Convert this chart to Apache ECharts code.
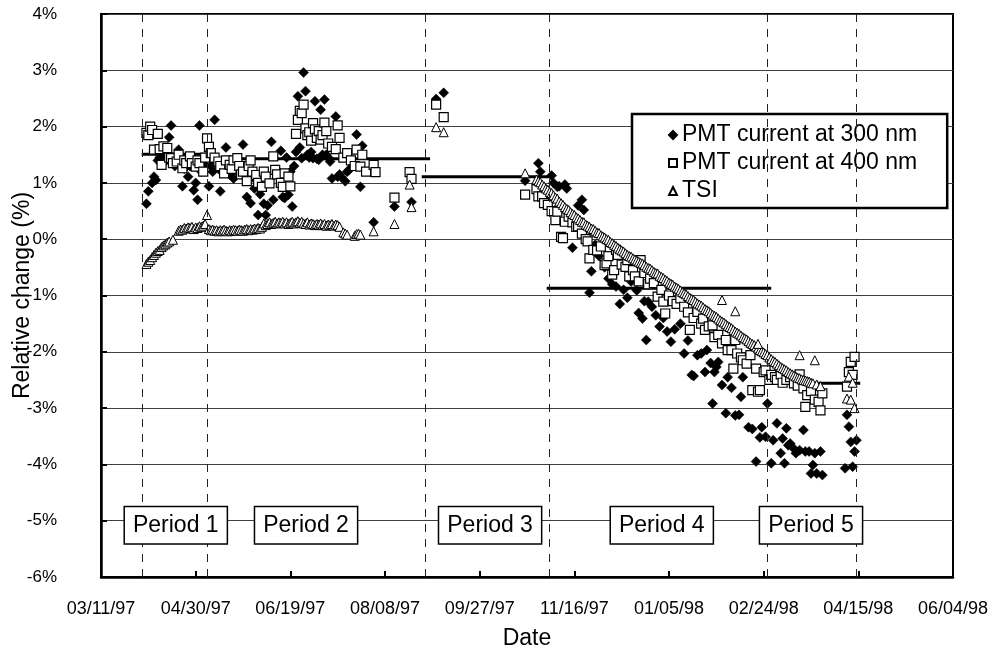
<!DOCTYPE html>
<html><head><meta charset="utf-8">
<script src="https://cdn.jsdelivr.net/npm/echarts@6/dist/echarts.min.js"></script>
<style>html,body{margin:0;padding:0;background:#fff}#c{width:993px;height:654px}</style>
</head><body><div id="c"></div>
<script>
// x values: days since 03/11/97 (Excel serial 35500)
const START_SERIAL = 35500;
const xMinSerial = 35500, xMaxSerial = 35950, xStep = 50;
const yMin = -6, yMax = 4, yStep = 1;

const pmt300 = [
[24,0.63],[25,0.85],[27,1.0],[28,1.11],[29,1.05],[30,1.4],[31,1.45],[33,1.35],[34,1.5],[36,1.81],[37,2.02],[38,1.4],[39,1.3],[41,1.59],[42,1.3],[43,0.94],[44,1.25],[46,1.11],[47,1.3],[49,0.87],[50,1.0],[51,0.70],[52,2.02],[53,1.2],[54,1.35],[55,1.3],
[57,0.94],[58,1.3],[59,1.2],[60,2.12],[61,1.35],[62,1.25],[63,0.85],[64,1.3],[65,1.2],[66,1.63],[67,1.25],[68,1.15],[70,1.08],[71,1.3],[72,1.2],[73,1.3],[75,1.68],[76,1.1],[77,0.75],[79,0.64],[80,1.1],[81,0.9],[83,0.43],[84,0.8],[86,0.63],[87,0.43],[88,0.6],[90,1.73],[91,0.7],[93,1.23],[95,1.57],[96,0.75],[97,0.73],[98,1.45],[99,0.79],[100,1.2],[101,0.58],[102,1.3],[103,1.55],[104,2.54],[105,1.63],[106,1.44],[107,2.96],[108,2.63],[109,1.5],[110,1.45],[111,1.55],[112,1.44],[113,2.45],[114,1.43],[115,1.41],[116,2.30],[117,1.5],[118,2.48],[119,1.50],[120,1.45],[121,1.38],[122,1.08],[124,2.18],[125,1.11],[126,1.15],[127,1.1],[129,1.03],[130,1.2],[131,1.23],[133,1.3],[135,1.86],[137,0.93],[138,1.66],[144,0.30],[155,0.58],[164,0.66],
[177,2.49],[181,2.60],[224,1.04],[231,1.35],[232,1.20],
[238,1.13],[239,1.0],[241,0.93],[242,0.94],[245,0.97],[246,0.90],[249,-0.15],[252,0.6],[254,0.70],[255,0.52],[256,0.2],[258,-0.95],[259,-0.57],[261,-0.1],[263,-0.3],[266,-0.5],[268,-0.7],[270,-0.8],[272,-0.84],[274,-1.15],[276,-0.9],[278,-1.04],[280,-0.75],[283,-0.91],[284,-1.31],[286,-1.41],[287,-1.1],[288,-1.79],[289,-1.11],[291,-1.2],[293,-1.35],[295,-1.55],[297,-1.4],[299,-1.64],[301,-1.82],[303,-1.6],[306,-1.50],[308,-2.03],[310,-1.8],[312,-2.41],[313,-2.43],[315,-2.06],[317,-2.03],[319,-2.36],[320,-1.97],[322,-2.2],[323,-2.92],[324,-2.36],[325,-2.27],[326,-2.18],[328,-2.59],[330,-3.09],[331,-2.45],[333,-2.64],[335,-3.13],[337,-3.12],[338,-2.8],[339,-2.45],[342,-3.34],[344,-3.37],[346,-3.95],[348,-3.52],[349,-3.34],[351,-3.51],[352,-2.92],
[354,-3.98],[355,-3.57],[357,-3.27],[359,-3.80],[360,-3.54],[361,-3.98],[362,-3.36],[363,-3.66],[364,-3.63],[366,-3.72],[367,-3.80],[369,-3.75],[371,-3.39],[372,-3.77],[374,-3.77],[375,-4.16],[376,-4.01],[377,-3.80],[378,-4.16],[380,-3.77],[381,-4.19],[393,-4.07],[394,-3.12],[395,-3.33],[396,-3.60],[397,-4.04],[398,-3.77],[399,-3.57]
];

const pmt400 = [
[24,1.89],[25,1.85],[26,2.0],[27,1.94],[28,1.59],[30,1.87],[31,1.6],[32,1.32],[33,1.65],[35,1.62],[36,1.45],[37,1.44],[38,1.35],[40,1.38],[41,1.5],[43,1.26],[44,1.4],[45,1.35],[47,1.47],[48,1.35],[50,1.29],[51,1.4],[52,1.35],[54,1.20],[55,1.45],
[56,1.79],[57,1.64],[58,1.53],[60,1.45],[62,1.38],[63,1.3],[65,1.17],[66,1.4],[68,1.32],[69,1.25],[70,1.4],[72,1.44],[73,1.3],[74,1.15],[75,1.20],[77,1.03],[78,1.3],[79,1.40],[80,1.2],[82,1.14],[83,1.0],[85,0.93],[86,1.2],[87,1.11],[89,0.99],[91,1.47],[92,1.23],[93,1.15],[95,1.0],[96,0.93],[97,1.17],[99,1.11],[100,0.94],[103,1.87],[104,2.12],[105,2.28],[106,2.24],[107,2.39],[108,1.97],[109,1.85],[110,1.9],[111,1.75],[112,2.06],[113,1.95],[114,1.8],[115,1.92],[116,1.77],[117,1.85],[118,2.07],[119,1.92],[120,1.7],[122,1.64],[124,1.6],[125,2.02],[126,1.80],[128,1.45],[130,1.53],[132,1.40],[134,1.3],[135,1.59],[137,1.29],[138,1.50],[140,1.2],[144,1.32],[145,1.19],[155,0.74],[163,1.19],[164,1.07],
[177,2.39],[181,2.17],[224,0.79],
[230,0.89],[231,0.76],[233,0.76],[234,0.64],[236,0.61],[238,0.5],[240,0.34],[241,0.49],[243,0.04],[244,0.02],[245,0.31],[247,0.4],[249,0.3],[251,0.22],[252,0.23],[254,0.1],[256,0.0],[257,-0.04],[258,-0.34],[260,-0.19],[262,-0.2],[264,-0.13],[266,-0.46],[267,-0.43],[268,-0.3],[270,-0.63],[271,-0.55],[272,-0.19],[273,-0.28],[275,-0.45],[277,-0.49],[278,-0.37],[279,-0.66],[281,-0.55],[282,-0.66],[284,-0.75],[285,-0.37],[287,-0.6],[289,-0.8],[290,-0.7],[292,-0.78],[294,-1.02],[296,-0.9],[297,-1.11],[298,-1.32],[300,-1.0],[302,-1.1],[304,-1.15],[306,-1.05],[308,-1.20],[310,-1.3],[311,-1.61],[313,-1.4],[315,-1.29],[317,-1.5],[318,-1.41],[319,-1.61],[321,-1.55],[323,-1.53],[324,-1.74],[326,-1.7],[328,-1.85],[330,-1.79],[331,-1.97],[333,-1.97],[334,-2.30],[335,-1.79],[336,-2.03],[338,-2.1],[339,-2.15],[341,-2.21],[343,-2.06],[344,-2.68],[346,-2.3],[347,-2.71],[348,-2.68],[350,-2.36],[351,-2.33],
[353,-2.5],[354,-2.41],[356,-2.45],[357,-2.50],[359,-2.4],[360,-2.55],[362,-2.50],[364,-2.45],[366,-2.56],[368,-2.6],[369,-2.4],[371,-2.65],[372,-2.98],[373,-2.77],[375,-2.7],[377,-2.85],[379,-2.89],[380,-3.04],[381,-2.74],[394,-2.62],[395,-2.36],[396,-2.18],[397,-2.41],[398,-2.09]
];

const tsi = [
[24,-0.44],[25,-0.40],[26,-0.37],[27,-0.32],[28,-0.28],[29,-0.24],[30,-0.21],[31,-0.19],[32,-0.14],[33,-0.11],[34,-0.09],[35,-0.06],[36,-0.04],[38,-0.01],[41,0.15],[42,0.17],[43,0.17],[44,0.20],[45,0.19],[46,0.21],[47,0.20],[48,0.22],[49,0.18],[50,0.21],[51,0.20],[52,0.23],[53,0.22],[54,0.24],[55,0.27],[56,0.43],
[57,0.18],[58,0.16],[59,0.17],[60,0.15],[61,0.16],[62,0.14],[63,0.16],[64,0.15],[65,0.17],[66,0.15],[67,0.14],[68,0.16],[69,0.15],[70,0.17],[71,0.16],[72,0.15],[73,0.17],[74,0.16],[75,0.15],[76,0.17],[77,0.18],[78,0.16],[79,0.18],[80,0.17],[81,0.19],[82,0.18],[83,0.20],[84,0.19],[85,0.22],[86,0.28],[87,0.25],[88,0.27],[89,0.30],[90,0.27],[91,0.29],[92,0.31],[93,0.28],[94,0.30],[95,0.29],[96,0.31],[97,0.28],[98,0.30],[99,0.27],[100,0.29],[101,0.31],[102,0.28],[103,0.30],[104,0.32],[105,0.29],[106,0.31],[107,0.28],[108,0.27],[109,0.30],[110,0.26],[111,0.28],[112,0.27],[113,0.25],[114,0.27],[115,0.26],[116,0.28],[117,0.25],[118,0.27],[119,0.24],[120,0.26],[121,0.25],[122,0.27],[123,0.24],[124,0.26],[125,0.25],[126,0.22],[128,0.12],[129,0.10],[130,0.08],[134,0.06],[135,0.09],[136,0.10],[137,0.08],[144,0.14],[155,0.27],[163,0.97],[164,0.57],
[177,1.99],[181,1.90],[224,1.17],
[230,1.06],[231,1.03],[232,1.01],[233,0.97],[234,0.94],[235,0.90],[236,0.88],[237,0.84],[238,0.82],[239,0.78],[240,0.74],[241,0.72],[242,0.67],[243,0.64],[244,0.61],[245,0.57],[246,0.54],[247,0.52],[248,0.48],[249,0.45],[250,0.43],[251,0.39],[252,0.37],[253,0.34],[254,0.31],[255,0.30],[256,0.26],[257,0.24],[258,0.22],[259,0.19],[260,0.18],[261,0.15],[262,0.12],[263,0.11],[264,0.07],[265,0.05],[266,0.03],[267,0.00],[268,-0.01],[269,-0.05],[270,-0.07],[271,-0.10],[272,-0.12],[273,-0.15],[274,-0.18],[275,-0.20],[276,-0.22],[277,-0.25],[278,-0.28],[279,-0.30],[280,-0.31],[281,-0.34],[282,-0.36],[283,-0.38],[284,-0.40],[285,-0.42],[286,-0.43],[287,-0.46],[288,-0.49],[289,-0.51],[290,-0.52],[291,-0.55],[292,-0.58],[293,-0.60],[294,-0.61],[295,-0.65],[296,-0.67],[297,-0.69],[298,-0.72],[299,-0.74],[300,-0.77],[301,-0.79],[302,-0.81],[303,-0.84],[304,-0.86],[305,-0.88],[306,-0.91],[307,-0.94],[308,-0.96],[309,-0.98],[310,-1.01],[311,-1.04],[312,-1.06],[313,-1.08],[314,-1.11],[315,-1.14],[316,-1.16],[317,-1.18],[318,-1.21],[319,-1.24],[320,-1.26],[321,-1.28],[322,-1.31],[323,-1.34],[324,-1.36],[325,-1.38],[326,-1.41],[327,-1.44],[328,-1.46],[329,-1.48],[330,-1.51],[331,-1.54],[332,-1.56],[333,-1.58],[334,-1.61],[335,-1.64],[336,-1.66],[337,-1.68],[338,-1.71],[339,-1.74],[340,-1.76],[341,-1.78],[342,-1.81],[343,-1.84],[344,-1.86],[345,-1.88],[346,-1.91],[347,-1.94],[348,-1.97],[349,-1.99],[350,-2.01],[351,-2.04],[352,-2.06],
[328,-1.08],[335,-1.28],[347,-1.86],
[353,-2.10],[354,-2.13],[355,-2.16],[356,-2.18],[357,-2.21],[358,-2.24],[359,-2.27],[360,-2.29],[361,-2.31],[362,-2.33],[363,-2.36],[364,-2.38],[365,-2.40],[366,-2.42],[367,-2.44],[368,-2.46],[369,-2.47],[370,-2.49],[371,-2.50],[372,-2.51],[373,-2.52],[374,-2.53],[375,-2.55],[376,-2.56],[378,-2.58],[380,-2.61],
[369,-2.06],[377,-2.15],[394,-2.83],[395,-2.44],[396,-2.85],[397,-2.55],[398,-3.0]
];

// period boundaries (days) and period mean values
const periodBounds = [22, 56, 171, 237, 352, 399];
const meanStart = [21.5, 53, 169.4, 235.4, 351.7];
const meanEnd = [55.8, 173.8, 237.2, 354, 401];
const meanVals = [1.51, 1.43, 1.11, -0.87, -2.56];
const periodNames = ['Period 1', 'Period 2', 'Period 3', 'Period 4', 'Period 5'];
const periodLabelDay = [39.5, 108.3, 205.5, 296.2, 375];
const periodLabelVal = -5.08;

const FONT = '"Liberation Sans", Arial, sans-serif';
const toX = d => START_SERIAL + d;
function fmtDate(serial) {
  const dt = new Date(Date.UTC(1899, 11, 30) + serial * 86400000);
  const p = n => String(n).padStart(2, '0');
  return p(dt.getUTCMonth() + 1) + '/' + p(dt.getUTCDate()) + '/' + p(dt.getUTCFullYear() % 100);
}

const chart = echarts.init(document.getElementById('c'), null, {renderer: 'canvas'});

const meanSeries = meanVals.map((v, i) => ({
  type: 'line', name: 'mean' + (i + 1), silent: true,
  data: [[toX(meanStart[i]), v], [toX(meanEnd[i]), v]],
  symbol: 'none', lineStyle: {color: '#000', width: 3}, z: 2,
  markLine: i === 0 ? {
    silent: true, symbol: ['none', 'none'], label: {show: false},
    lineStyle: {color: '#222', width: 1, type: [8, 7]},
    data: periodBounds.map(b => ({xAxis: toX(b)}))
  } : undefined
}));

const scatterCommon = {type: 'scatter', z: 3};

chart.setOption({
  animation: false,
  backgroundColor: '#fff',
  textStyle: {fontFamily: FONT},
  grid: {left: 101, right: 40, top: 14, bottom: 77, containLabel: false, outerBoundsMode: 'none',
         show: true, borderColor: '#000', borderWidth: 2, backgroundColor: 'transparent'},
  legend: {
    data: ['PMT current at 300 nm', 'PMT current at 400 nm', 'TSI'],
    orient: 'vertical', left: 632, top: 114,
    backgroundColor: '#fff', borderColor: '#000', borderWidth: 2.5,
    padding: [9, 30, 5, 36], itemGap: 4, itemWidth: 8, itemHeight: 8,
    textStyle: {fontSize: 23, lineHeight: 24, color: '#000', fontFamily: FONT},
    selectedMode: false
  },
  xAxis: {
    type: 'value', min: xMinSerial, max: xMaxSerial, interval: xStep,
    name: 'Date', nameLocation: 'middle', nameGap: 50, nameMoveOverlap: false,
    nameTextStyle: {fontSize: 23, color: '#000', fontFamily: FONT},
    axisLine: {onZero: false, lineStyle: {color: '#000', width: 2.5}},
    axisTick: {inside: true, length: 6, lineStyle: {color: '#000', width: 2}},
    axisLabel: {formatter: fmtDate, fontSize: 18, color: '#000', margin: 23, showMinLabel: true, showMaxLabel: true, fontFamily: FONT},
    splitLine: {show: false}
  },
  yAxis: {
    type: 'value', min: yMin, max: yMax, interval: yStep,
    name: 'Relative change (%)', nameLocation: 'middle', nameGap: 67, nameRotate: 90, nameMoveOverlap: false,
    nameTextStyle: {fontSize: 23, color: '#000', fontFamily: FONT},
    axisLine: {show: true, onZero: false, lineStyle: {color: '#000', width: 2.5}},
    axisTick: {show: true, inside: true, length: 6, lineStyle: {color: '#000', width: 2}},
    axisLabel: {formatter: v => v + '%', fontSize: 17, color: '#000', margin: 44, fontFamily: FONT},
    splitLine: {show: true, lineStyle: {color: '#404040', width: 1}}
  },
  series: [
    ...meanSeries,
    Object.assign({}, scatterCommon, {
      name: 'PMT current at 300 nm', symbol: 'diamond', symbolSize: 10,
      itemStyle: {color: '#000', borderColor: '#000', borderWidth: 0.5, opacity: 1},
      data: pmt300.map(p => [toX(p[0]), p[1]])
    }),
    Object.assign({}, scatterCommon, {
      name: 'PMT current at 400 nm', symbol: 'rect', symbolSize: 9,
      itemStyle: {color: '#fff', borderColor: '#000', borderWidth: 1.2, opacity: 1},
      data: pmt400.map(p => [toX(p[0]), p[1]])
    }),
    Object.assign({}, scatterCommon, {
      name: 'TSI', symbol: 'triangle', symbolSize: 9,
      itemStyle: {color: '#fff', borderColor: '#000', borderWidth: 1, opacity: 1},
      data: tsi.map(p => [toX(p[0]), p[1]])
    }),
    {
      type: 'scatter', name: 'periods', silent: true, z: 10,
      symbolSize: 1, itemStyle: {color: 'rgba(0,0,0,0)', opacity: 1},
      data: periodNames.map((n, i) => ({name: n, value: [toX(periodLabelDay[i]), periodLabelVal]})),
      label: {
        show: true, position: 'inside', formatter: p => p.name,
        fontSize: 23, lineHeight: 26, color: '#000', fontFamily: FONT,
        backgroundColor: '#fff', borderColor: '#000', borderWidth: 1.5,
        padding: [5, 8, 5, 8]
      }
    }
  ]
});
</script></body></html>
